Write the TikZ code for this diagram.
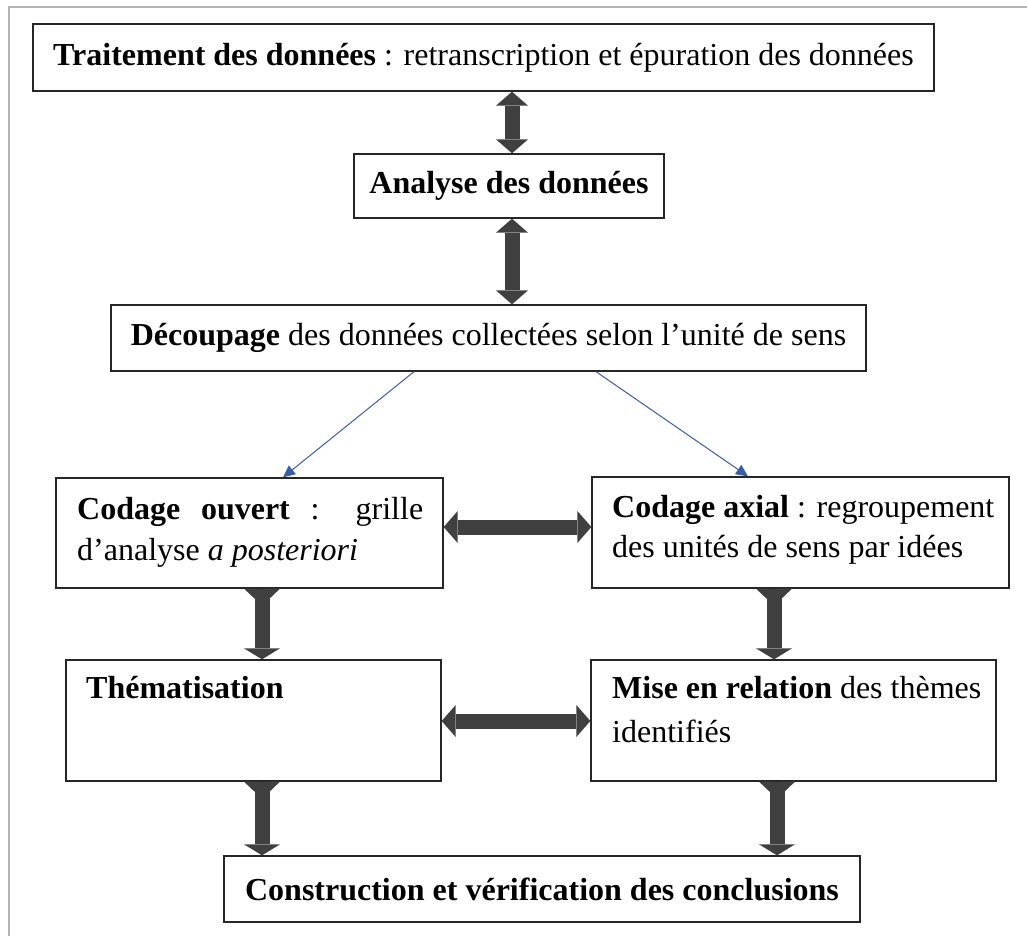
\documentclass[tikz,border=0pt]{standalone}
\usepackage{fontspec}
\setmainfont{Liberation Serif}
\usetikzlibrary{arrows.meta,calc}
\definecolor{arrgray}{HTML}{404040}
\definecolor{lineblue}{HTML}{3A5EA6}
\definecolor{framegray}{HTML}{B4B4B4}
\newcommand{\bigfont}{\fontsize{32}{43}\selectfont}
\begin{document}
\begin{tikzpicture}[x=1pt,y=-1pt,
  box/.style={draw=black!85, line width=1.3pt, inner sep=0pt, font=\bigfont},
  txt/.style={inner sep=0pt, anchor=base west, font=\bigfont},
  downarrow/.style={draw=arrgray, line width=15pt, -{Triangle[length=11pt,width=36pt,line width=0pt]}},
  dblarrow/.style={draw=arrgray, line width=15pt, {Triangle[length=14pt,width=32pt,line width=0pt]}-{Triangle[length=14pt,width=32pt,line width=0pt]}},
  bluearrow/.style={draw=lineblue, line width=1pt, -{Triangle[length=12pt,width=11pt]}},
  fork/.pic={\fill[arrgray] (-18,0) -- (-3,0) -- (0,4) -- (3,0) -- (18,0) -- (7.5,10) -- (-7.5,10) -- cycle;}]
\useasboundingbox (0,0) rectangle (1027,936);
% frame
\coordinate (fbl) at (9,936);
\coordinate (ftl) at (9,7);
\coordinate (ftr) at (1027,7);
\draw[framegray, line width=2.5pt] (fbl) -- (ftl) -- (ftr);
% boxes
\node[box, minimum width=901pt, minimum height=67pt] (b1) at (483.5,57.5) {\textbf{Traitement des données} : retranscription et épuration des données};
\node[box, minimum width=310pt, minimum height=64pt] (b2) at (509,186) {\textbf{Analyse des données}};
\node[box, minimum width=755pt, minimum height=66pt] (b3) at (488.5,338) {\textbf{Découpage} des données collectées selon l’unité de sens};
\node[box, minimum width=387pt, minimum height=110pt] (b4) at (249.5,533) {};
\node[box, minimum width=417pt, minimum height=111pt] (b5) at (800.5,532.5) {};
\node[box, minimum width=375pt, minimum height=121pt] (b6) at (253.5,720.5) {};
\node[box, minimum width=405pt, minimum height=121pt] (b7) at (793.5,720.5) {};
\node[box, minimum width=636pt, minimum height=66pt] (b8) at (542,889) {\textbf{Construction et vérification des conclusions}};
% texts
\node[txt] (t4a) at (77,519) {\makebox[346pt][s]{\textbf{Codage} \textbf{ouvert} : grille}};
\node[txt] (t4b) at (77,560) {d’analyse \textit{a posteriori}};
\node[txt] (t5a) at (612,517) {\textbf{Codage axial} : regroupement};
\node[txt] (t5b) at (612,557) {des unités de sens par idées};
\node[txt] (t6) at (86,698) {\textbf{Thématisation}};
\node[txt] (t7a) at (612,698) {\textbf{Mise en relation} des thèmes};
\node[txt] (t7b) at (612,742) {identifiés};
% helper coordinates
\coordinate (xA) at (512,0);
\coordinate (bl1) at (414,0);
\coordinate (bl2) at (283,0);
\coordinate (br1) at (596,0);
\coordinate (br2) at (748,0);
\coordinate (hy1) at (0,527);
\coordinate (hy2) at (0,721);
\coordinate (xd1) at (262,0);
\coordinate (xd2) at (774,0);
\coordinate (xd3) at (777,0);
% connectors
\draw[dblarrow] (b1.south -| xA) -- (b2.north -| xA);
\draw[dblarrow] (b2.south -| xA) -- (b3.north -| xA);
\draw[bluearrow] (b3.south -| bl1) -- (b4.north -| bl2);
\draw[bluearrow] (b3.south -| br1) -- (b5.north -| br2);
\draw[dblarrow] (b4.east |- hy1) -- (b5.west |- hy1);
\draw[dblarrow] (b6.east |- hy2) -- (b7.west |- hy2);
\draw[downarrow] (b4.south -| xd1) -- (b6.north -| xd1);
\draw[downarrow] (b5.south -| xd2) -- (b7.north -| xd2);
\draw[downarrow] (b6.south -| xd1) -- (b8.north -| xd1);
\draw[downarrow] (b7.south -| xd3) -- (b8.north -| xd3);
\pic at (b4.south -| xd1) {fork};
\pic at (b5.south -| xd2) {fork};
\pic at (b6.south -| xd1) {fork};
\pic at (b7.south -| xd3) {fork};
\end{tikzpicture}
\end{document}
